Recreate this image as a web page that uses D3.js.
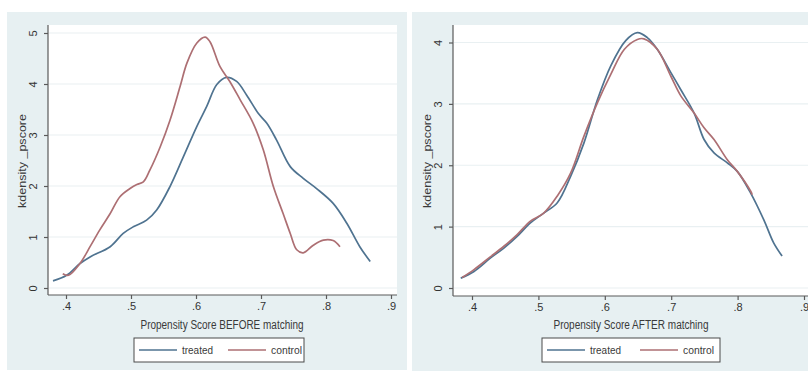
<!DOCTYPE html>
<html>
<head>
<meta charset="utf-8">
<script src="https://cdn.jsdelivr.net/npm/d3@7"></script>
<style>
  body { margin: 0; background: #ffffff; }
  svg { display: block; }
  text { font-family: "Liberation Sans Narrow", "Arial Narrow", "Liberation Sans", Arial, sans-serif; fill: #3a3a3a; }
</style>
</head>
<body>
<div id="chart"></div>
<script>
// data: [propensity score, density]
var treatedBefore = [[0.380,0.14],[0.401,0.25],[0.4215,0.48],[0.437,0.61],[0.468,0.81],[0.488,1.07],[0.5035,1.20],
  [0.524,1.33],[0.5395,1.53],[0.56,1.99],[0.5805,2.57],[0.601,3.16],[0.6165,3.56],[0.632,3.99],[0.647,4.13],
  [0.6625,4.05],[0.678,3.78],[0.696,3.42],[0.709,3.23],[0.724,2.90],[0.745,2.38],[0.765,2.15],[0.7855,1.95],
  [0.811,1.66],[0.832,1.27],[0.852,0.81],[0.868,0.52]];
var controlBefore = [[0.395,0.28],[0.404,0.25],[0.4215,0.48],[0.437,0.81],[0.452,1.14],[0.468,1.46],[0.483,1.79],
  [0.4985,1.95],[0.509,2.03],[0.519,2.08],[0.529,2.31],[0.545,2.77],[0.56,3.29],[0.5755,3.95],[0.586,4.41],
  [0.601,4.80],[0.614,4.92],[0.6215,4.83],[0.637,4.34],[0.652,4.05],[0.668,3.69],[0.688,3.23],[0.7035,2.71],
  [0.719,1.99],[0.734,1.46],[0.745,1.07],[0.755,0.75],[0.765,0.69],[0.7805,0.84],[0.796,0.94],[0.811,0.93],[0.8215,0.81]];
var treatedAfter = [[0.383,0.16],[0.403,0.27],[0.428,0.49],[0.448,0.65],[0.468,0.84],[0.488,1.06],[0.508,1.22],
  [0.5285,1.39],[0.5485,1.82],[0.5685,2.36],[0.589,3.07],[0.609,3.62],[0.6315,4.03],[0.649,4.16],[0.664,4.08],
  [0.679,3.89],[0.6995,3.51],[0.7145,3.23],[0.7345,2.85],[0.7495,2.42],[0.7645,2.20],[0.7845,2.04],[0.7995,1.90],
  [0.8195,1.55],[0.8395,1.11],[0.8545,0.73],[0.867,0.52]];
var controlAfter = [[0.385,0.17],[0.403,0.30],[0.428,0.51],[0.448,0.68],[0.468,0.87],[0.488,1.09],[0.508,1.22],
  [0.5285,1.50],[0.5485,1.87],[0.5685,2.47],[0.589,3.02],[0.609,3.48],[0.6295,3.89],[0.649,4.05],[0.659,4.06],
  [0.679,3.89],[0.6995,3.45],[0.7145,3.13],[0.7345,2.85],[0.7495,2.61],[0.7645,2.42],[0.7845,2.09],[0.7995,1.90],
  [0.8195,1.58],[0.822,1.52]];

var xTicks = [0.4, 0.5, 0.6, 0.7, 0.8, 0.9];
var yTicksBefore = [0, 1, 2, 3, 4, 5];
var yTicksAfter = [0, 1, 2, 3, 4];
var seriesNames = ["treated", "control"];
var yTitle = "kdensity _pscore";

var colors = { treated: "#4f7390", control: "#ad6f73" };

var svg = d3.select("#chart").append("svg")
    .attr("width", 808)
    .attr("height", 371);

var panels = [
  { series: [treatedBefore, controlBefore], yTicks: yTicksBefore, title: "Propensity Score BEFORE matching",
    bg: [7, 12, 400, 358], plot: [48, 25, 397, 295], xRange: [66, 391], yRange: [288, 33], yDomain: [0, 5],
    legend: 134, legendW: 170, titleW: 163, titleX: 222 },
  { series: [treatedAfter, controlAfter], yTicks: yTicksAfter, title: "Propensity Score AFTER matching",
    bg: [412, 12, 400, 359], plot: [453, 25, 812, 296], xRange: [472, 804], yRange: [288, 42.5], yDomain: [0, 4],
    legend: 542, legendW: 178, titleW: 155, titleX: 631 }
];

panels.forEach(function (p) {
  var g = svg.append("g");

  // grey graph region
  g.append("rect")
    .attr("x", p.bg[0]).attr("y", p.bg[1])
    .attr("width", p.bg[2]).attr("height", p.bg[3])
    .style("fill", "#e7f0f2");

  // white plot region
  g.append("rect")
    .attr("x", p.plot[0]).attr("y", p.plot[1])
    .attr("width", p.plot[2] - p.plot[0]).attr("height", p.plot[3] - p.plot[1])
    .style("fill", "#ffffff");

  var x = d3.scaleLinear().domain([0.4, 0.9]).range(p.xRange);
  var y = d3.scaleLinear().domain(p.yDomain).range(p.yRange);

  // grid lines
  g.append("g").selectAll("line")
    .data(p.yTicks)
    .enter().append("line")
    .attr("x1", p.plot[0] + 1).attr("x2", p.plot[2])
    .attr("y1", function (d) { return y(d); })
    .attr("y2", function (d) { return y(d); })
    .style("stroke", "#e9f0f2")
    .style("stroke-width", 1.2);

  // X axis
  var xAxis = g.append("g")
    .attr("transform", "translate(0," + p.plot[3] + ")")
    .call(d3.axisBottom(x).tickValues(xTicks).tickSize(4).tickSizeOuter(0)
      .tickFormat(function (d) { return d3.format(".1f")(d).replace(/^0/, ""); }));
  xAxis.select(".domain").attr("d", "M" + p.plot[0] + ",0H" + p.plot[2]);
  xAxis.selectAll("path, line").style("stroke", "#5a5a5a").style("stroke-width", 1.2);
  xAxis.selectAll("text").attr("y", 7).style("font-size", "11px").style("fill", "#333");

  // Y axis
  var yAxis = g.append("g")
    .attr("transform", "translate(" + p.plot[0] + ",0)")
    .call(d3.axisLeft(y).tickValues(p.yTicks).tickSize(4).tickSizeOuter(0).tickFormat(d3.format("d")));
  yAxis.select(".domain").attr("d", "M0," + p.plot[1] + "V" + p.plot[3]);
  yAxis.selectAll("path, line").style("stroke", "#5a5a5a").style("stroke-width", 1.2);
  yAxis.selectAll("text")
    .attr("x", null).attr("dy", null)
    .attr("text-anchor", "middle")
    .attr("transform", "translate(-11,0) rotate(-90)")
    .attr("y", 0)
    .style("font-size", "11px").style("fill", "#333");

  // density curves
  var line = d3.line()
    .x(function (d) { return x(d[0]); })
    .y(function (d) { return y(d[1]); })
    .curve(d3.curveCatmullRom.alpha(0.5));

  p.series.forEach(function (s, i) {
    g.append("path")
      .datum(s)
      .attr("d", line)
      .style("fill", "none")
      .style("stroke", colors[seriesNames[i]])
      .style("stroke-width", 1.7);
  });

  // X axis title
  g.append("text")
    .attr("x", p.titleX)
    .attr("y", 329)
    .attr("text-anchor", "middle")
    .attr("textLength", p.titleW)
    .attr("lengthAdjust", "spacingAndGlyphs")
    .style("font-size", "12px")
    .text(p.title);

  // Y axis title
  g.append("text")
    .attr("transform", "translate(" + (p.bg[0] + 19) + ",161) rotate(-90)")
    .attr("text-anchor", "middle")
    .attr("textLength", 94)
    .attr("lengthAdjust", "spacingAndGlyphs")
    .style("font-size", "11px")
    .text(yTitle);

  // legend
  var lg = g.append("g").attr("transform", "translate(" + p.legend + ",338)");
  lg.append("rect")
    .attr("width", p.legendW).attr("height", 24)
    .style("fill", "#ffffff")
    .style("stroke", "#4a4a4a")
    .style("stroke-width", 1);
  var half = p.legendW / 2;
  seriesNames.forEach(function (name, i) {
    var ox = i * (half + 4) + 5;
    lg.append("line")
      .attr("x1", ox).attr("x2", ox + 38)
      .attr("y1", 12).attr("y2", 12)
      .style("stroke", colors[name])
      .style("stroke-width", 1.7);
    lg.append("text")
      .attr("x", ox + 43).attr("y", 16)
      .attr("textLength", 31)
      .attr("lengthAdjust", "spacingAndGlyphs")
      .style("font-size", "11px")
      .text(name);
  });
});
</script>
</body>
</html>
